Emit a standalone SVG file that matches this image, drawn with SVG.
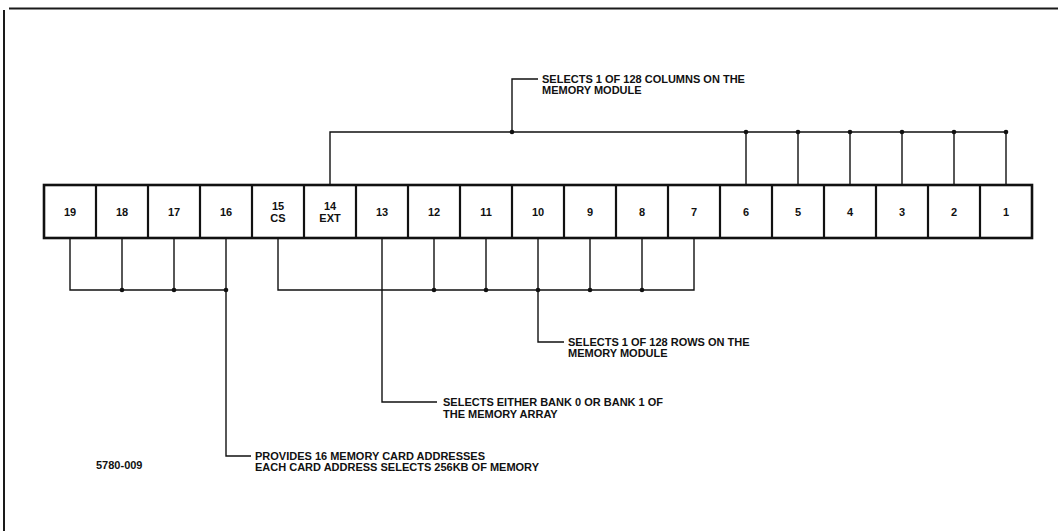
<svg xmlns="http://www.w3.org/2000/svg" width="1058" height="531" viewBox="0 0 1058 531">
<style>
.frame{stroke:#1a1a1a;stroke-width:2;fill:none}
.reg{fill:#fff;stroke:#111;stroke-width:2.6}
.div{stroke:#111;stroke-width:2.2}
.wire{stroke:#111;stroke-width:1.4;fill:none}
.dot{fill:#111}
.num{font-family:"Liberation Sans",Arial,sans-serif;font-weight:bold;font-size:11px;fill:#111;text-anchor:middle}
.lbl{font-family:"Liberation Sans",Arial,sans-serif;font-weight:bold;font-size:11px;fill:#111}
</style>
<rect width="1058" height="531" fill="#fff"/>
<g id="frame">
<line class="frame" x1="9" y1="8.5" x2="1058" y2="8.5"/>
<line class="frame" x1="4" y1="10" x2="4" y2="531"/>
</g>
<g id="register">
<rect class="reg" x="44" y="185" width="988" height="53"/>
<path class="div" d="M96 185V238M148 185V238M200 185V238M252 185V238M304 185V238M356 185V238M408 185V238M460 185V238M512 185V238M564 185V238M616 185V238M668 185V238M720 185V238M772 185V238M824 185V238M876 185V238M928 185V238M980 185V238"/>
</g>
<g id="bit19"><text class="num" x="70" y="216">19</text></g>
<g id="bit18"><text class="num" x="122" y="216">18</text></g>
<g id="bit17"><text class="num" x="174" y="216">17</text></g>
<g id="bit16"><text class="num" x="226" y="216">16</text></g>
<g id="bit15"><text class="num" x="278" y="210">15</text><text class="num" x="278" y="222">CS</text></g>
<g id="bit14"><text class="num" x="330" y="210">14</text><text class="num" x="330" y="222">EXT</text></g>
<g id="bit13"><text class="num" x="382" y="216">13</text></g>
<g id="bit12"><text class="num" x="434" y="216">12</text></g>
<g id="bit11"><text class="num" x="486" y="216">11</text></g>
<g id="bit10"><text class="num" x="538" y="216">10</text></g>
<g id="bit9"><text class="num" x="590" y="216">9</text></g>
<g id="bit8"><text class="num" x="642" y="216">8</text></g>
<g id="bit7"><text class="num" x="694" y="216">7</text></g>
<g id="bit6"><text class="num" x="746" y="216">6</text></g>
<g id="bit5"><text class="num" x="798" y="216">5</text></g>
<g id="bit4"><text class="num" x="850" y="216">4</text></g>
<g id="bit3"><text class="num" x="902" y="216">3</text></g>
<g id="bit2"><text class="num" x="954" y="216">2</text></g>
<g id="bit1"><text class="num" x="1006" y="216">1</text></g>
<g id="connectors">
<path class="wire" d="M330 185V132H1006V185M746 132V185M798 132V185M850 132V185M902 132V185M954 132V185M512 132V79H538"/>
<path class="wire" d="M70 238V290H226M122 238V290M174 238V290M226 238V456H251"/>
<path class="wire" d="M278 238V290H694V238M434 238V290M486 238V290M590 238V290M642 238V290M538 238V342H564M382 238V402H437"/>
<circle class="dot" cx="512" cy="132" r="2.3"/>
<circle class="dot" cx="746" cy="132" r="2.3"/>
<circle class="dot" cx="798" cy="132" r="2.3"/>
<circle class="dot" cx="850" cy="132" r="2.3"/>
<circle class="dot" cx="902" cy="132" r="2.3"/>
<circle class="dot" cx="954" cy="132" r="2.3"/>
<circle class="dot" cx="1006" cy="132" r="2.3"/>
<circle class="dot" cx="122" cy="290" r="2.3"/>
<circle class="dot" cx="174" cy="290" r="2.3"/>
<circle class="dot" cx="226" cy="290" r="2.3"/>
<circle class="dot" cx="434" cy="290" r="2.3"/>
<circle class="dot" cx="486" cy="290" r="2.3"/>
<circle class="dot" cx="538" cy="290" r="2.3"/>
<circle class="dot" cx="590" cy="290" r="2.3"/>
<circle class="dot" cx="642" cy="290" r="2.3"/>
</g>
<g id="label-columns">
<text class="lbl" x="542" y="83">SELECTS 1 OF 128 COLUMNS ON THE</text>
<text class="lbl" x="542" y="94">MEMORY MODULE</text>
</g>
<g id="label-rows">
<text class="lbl" x="568" y="346">SELECTS 1 OF 128 ROWS ON THE</text>
<text class="lbl" x="568" y="357">MEMORY MODULE</text>
</g>
<g id="label-bank">
<text class="lbl" x="443" y="406">SELECTS EITHER BANK 0 OR BANK 1 OF</text>
<text class="lbl" x="443" y="418">THE MEMORY ARRAY</text>
</g>
<g id="label-card">
<text class="lbl" x="255" y="460">PROVIDES 16 MEMORY CARD ADDRESSES</text>
<text class="lbl" x="255" y="471">EACH CARD ADDRESS SELECTS 256KB OF MEMORY</text>
</g>
<g id="figno"><text class="lbl" x="96" y="469">5780-009</text></g>
</svg>
